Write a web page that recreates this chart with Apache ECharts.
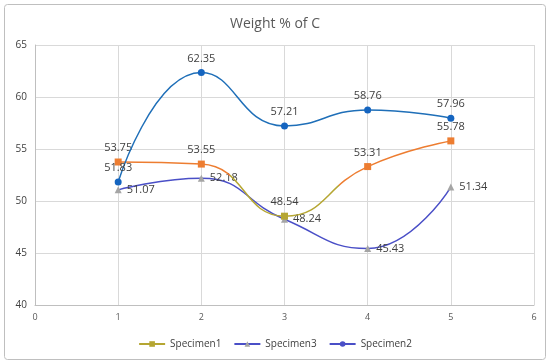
<!DOCTYPE html>
<html><head><meta charset="utf-8">
<script src="https://cdn.jsdelivr.net/npm/echarts@6/dist/echarts.min.js"></script>
<style>html,body{margin:0;padding:0;background:#fff}#c{width:550px;height:364px}</style>
</head><body><div id="c"></div>
<script>
const xValues = [1, 2, 3, 4, 5];
const specimen1 = [53.75, 53.55, 48.54, 53.31, 55.78];
const specimen3 = [51.07, 52.18, 48.24, 45.43, 51.34];
const specimen2 = [51.83, 62.35, 57.21, 58.76, 57.96];
const seriesNames = ['Specimen1', 'Specimen3', 'Specimen2'];
const pairs = v => xValues.map((x, i) => [x, v[i]]);
const chart = echarts.init(document.getElementById('c'));
const lbl = pos => ({show: true, position: pos, distance: 5, color: '#404040', fontSize: 11, fontFamily: 'Open Sans', formatter: p => p.value[1].toFixed(2)});
chart.setOption({
  animation: false,
  title: {text: 'Weight % of C', left: 'center', top: 12, textStyle: {color: '#595959', fontSize: 14, fontWeight: 'normal', fontFamily: 'Open Sans'}},
  graphic: [{type: 'rect', shape: {x: 4.5, y: 4.5, width: 541, height: 355, r: 3}, style: {fill: 'none', stroke: '#bfbfbf', lineWidth: 1}, z: -1}],
  grid: {left: 35, right: 16, top: 45, bottom: 59},
  visualMap: {type: 'piecewise', show: false, seriesIndex: 0, dimension: 0,
    pieces: [{lt: 2.35, color: '#ed7d31'}, {gte: 2.35, lte: 3.65, color: '#b5a632'}, {gt: 3.65, color: '#ed7d31'}]},
  legend: {bottom: 10, left: 'center', itemGap: 12, itemWidth: 26, itemHeight: 7,
    textStyle: {color: '#404040', fontSize: 10, fontFamily: 'Open Sans'},
    data: [
      {name: 'Specimen1', itemStyle: {color: '#b5a632'}, lineStyle: {color: '#b5a632'}},
      {name: 'Specimen3', itemStyle: {color: '#a5a5a5'}, lineStyle: {color: '#4a4fc7'}},
      {name: 'Specimen2', itemStyle: {color: '#4a4fc7'}, lineStyle: {color: '#4a4fc7'}}
    ]},
  xAxis: {type: 'value', min: 0, max: 6, interval: 1,
    axisLine: {show: true, lineStyle: {color: '#bfbfbf'}}, axisTick: {show: false},
    axisLabel: {color: '#595959', fontSize: 9, fontFamily: 'Open Sans', margin: 8},
    splitLine: {show: true, lineStyle: {color: '#d9d9d9'}}},
  yAxis: {type: 'value', min: 40, max: 65, interval: 5,
    axisLine: {show: true, lineStyle: {color: '#bfbfbf'}}, axisTick: {show: false},
    axisLabel: {color: '#404040', fontSize: 10, fontFamily: 'Open Sans', margin: 8},
    splitLine: {show: true, lineStyle: {color: '#d9d9d9'}}},
  series: [
    {name: seriesNames[0], type: 'line', smooth: 0.5, data: pairs(specimen1), symbol: 'rect', symbolSize: 7,
      lineStyle: {width: 1.5}, label: lbl('top'), z: 3},
    {name: seriesNames[1], type: 'line', smooth: 0.5, data: pairs(specimen3), symbol: 'triangle', symbolSize: 7,
      lineStyle: {color: '#4a4fc7', width: 1.5}, itemStyle: {color: '#a5a5a5'}, label: lbl('right'), z: 2},
    {name: seriesNames[2], type: 'line', smooth: 0.5, data: pairs(specimen2), symbol: 'circle', symbolSize: 7,
      lineStyle: {color: '#1f6fb8', width: 1.5}, itemStyle: {color: '#1565c0'}, label: lbl('top'), z: 4}
  ]
});
</script></body></html>
